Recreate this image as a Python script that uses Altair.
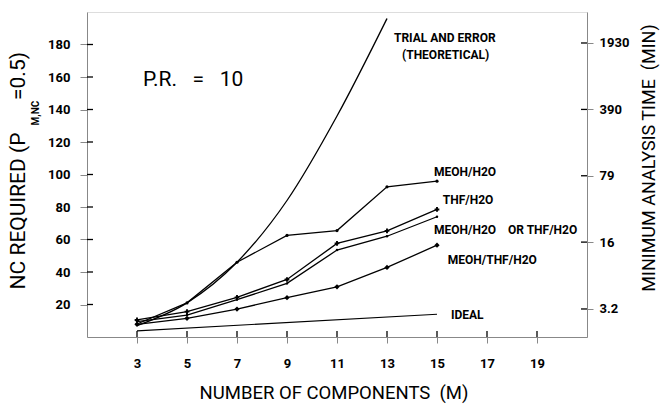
import altair as alt
import pandas as pd

# Number of components
m_vals = [3, 5, 7, 9, 11, 13, 15]

# NC required for each mobile-phase system
meoh_h2o = [8, 21, 46, 62.5, 65.5, 92.4, 95.9]
thf_h2o = [10.5, 15.6, 24.4, 35.4, 57.6, 65.3, 78.5]
meoh_or_thf = [9.5, 13.5, 23, 33, 53.5, 62, 74]
meoh_thf_h2o = [7.8, 11.5, 17.2, 24.2, 30.9, 42.8, 56.5]

# Trial and error (theoretical) curve
trial_m = [3, 5, 7, 9, 11, 13]
trial_nc = [7, 21, 46, 84, 136, 196]

# Ideal line
ideal_m = [3, 15]
ideal_nc = [3.8, 14]

# Axis ticks
x_ticks = [3, 5, 7, 9, 11, 13, 15, 17, 19]
y_ticks = [20, 40, 60, 80, 100, 120, 140, 160, 180]
time_ticks = [3.2, 16, 79, 390, 1930]

NB = "\u00a0"
# Curve labels
label_text = ["TRIAL AND ERROR", "(THEORETICAL)", "MEOH/H2O", "THF/H2O",
              "MEOH/H2O" + NB * 4 + "OR THF/H2O", "MEOH/THF/H2O", "IDEAL"]
label_m = [13.28, 13.6, 14.88, 15.23, 14.88, 15.43, 15.56]
label_nc = [184.3, 173.3, 101.4, 84.2, 65.7, 47.3, 13.5]

FONT = "Roboto"

rows = []
for name, vals in [("MEOH/H2O", meoh_h2o), ("THF/H2O", thf_h2o),
                   ("MEOH/H2O OR THF/H2O", meoh_or_thf), ("MEOH/THF/H2O", meoh_thf_h2o)]:
    for m, v in zip(m_vals, vals):
        rows.append({"series": name, "M": m, "NC": v})
df = pd.DataFrame(rows)
trial_df = pd.DataFrame({"M": trial_m, "NC": trial_nc})
ideal_df = pd.DataFrame({"M": ideal_m, "NC": ideal_nc})
labels_df = pd.DataFrame({"text": label_text, "M": label_m, "NC": label_nc})

xscale = alt.Scale(domain=[1, 21], nice=False, zero=False)
yscale = alt.Scale(domain=[0, 200], nice=False, zero=False)

X = alt.X("M:Q", scale=xscale, axis=alt.Axis(
    values=x_ticks, title=None, grid=False, tickSize=6, labelPadding=14,
    labelFontSize=13, labelFont=FONT, labelFontWeight="bold"))
Y = alt.Y("NC:Q", scale=yscale, axis=alt.Axis(
    values=y_ticks, title=None, grid=False, tickSize=7, labelPadding=10,
    labelFontSize=13, labelFont=FONT, labelFontWeight="bold"))

lines = alt.Chart(df).mark_line(color="black", strokeWidth=1.3).encode(
    x=X, y=Y, detail="series:N")

trial = alt.Chart(trial_df).mark_line(color="black", strokeWidth=1.3,
                                      interpolate="monotone").encode(x="M:Q", y="NC:Q")
ideal = alt.Chart(ideal_df).mark_line(color="black", strokeWidth=1.2).encode(x="M:Q", y="NC:Q")

dots = alt.Chart(df[df.series == "MEOH/H2O"]).mark_point(
    filled=True, color="black", size=10, opacity=1).encode(x="M:Q", y="NC:Q")
plus = alt.Chart(df[df.series == "THF/H2O"]).mark_point(
    shape="cross", filled=True, color="black", size=22, opacity=1).encode(x="M:Q", y="NC:Q")
small = alt.Chart(df[df.series == "MEOH/H2O OR THF/H2O"]).mark_point(
    filled=True, color="black", size=6, opacity=1).encode(x="M:Q", y="NC:Q")
stars = alt.Chart(df[df.series == "MEOH/THF/H2O"]).mark_point(
    shape="diamond", filled=True, color="black", size=28, opacity=1).encode(x="M:Q", y="NC:Q")

labels = alt.Chart(labels_df).mark_text(
    align="left", baseline="middle", font=FONT, fontSize=12, fontWeight="bold",
    color="black").encode(x="M:Q", y="NC:Q", text="text:N")

pr = alt.Chart(pd.DataFrame({"t": ["P.R." + NB * 3 + "=" + NB * 3 + "10"]})).mark_text(
    align="left", baseline="middle", font=FONT, fontSize=21, color="black").encode(
    x=alt.value(56), y=alt.value(68), text="t:N")

# inner halves of the crossing ticks
left_in = alt.Chart(pd.DataFrame({"NC": y_ticks})).mark_rule(
    color="black", strokeWidth=1.3).encode(y="NC:Q", x=alt.value(0), x2=alt.value(6))
bottom_in = alt.Chart(pd.DataFrame({"M": x_ticks})).mark_rule(
    color="black", strokeWidth=1.3).encode(x="M:Q", y=alt.value(319), y2=alt.value(325))

# axis titles
ytitle_a = alt.Chart(pd.DataFrame({"t": ["NC" + NB + "REQUIRED" + NB + "(P"]})).mark_text(
    angle=270, align="center", baseline="middle", font=FONT, fontSize=21, color="black").encode(
    x=alt.value(-68), y=alt.value(199), text="t:N")
ytitle_sub = alt.Chart(pd.DataFrame({"t": ["M,NC"]})).mark_text(
    angle=270, align="center", baseline="middle", font=FONT, fontSize=10, fontWeight="bold",
    color="black").encode(x=alt.value(-51), y=alt.value(101), text="t:N")
ytitle_b = alt.Chart(pd.DataFrame({"t": ["=0.5)"]})).mark_text(
    angle=270, align="center", baseline="middle", font=FONT, fontSize=21, color="black").encode(
    x=alt.value(-68), y=alt.value(64), text="t:N")
xtitle = alt.Chart(pd.DataFrame({"t": ["NUMBER OF COMPONENTS" + NB * 2 + "(M)"]})).mark_text(
    align="center", baseline="middle", font=FONT, fontSize=18.5, color="black").encode(
    x=alt.value(247), y=alt.value(381), text="t:N")
rtitle = alt.Chart(pd.DataFrame({"t": ["MINIMUM ANALYSIS TIME" + NB * 2 + "(MIN)"]})).mark_text(
    angle=270, align="center", baseline="middle", font=FONT, fontSize=18, color="black").encode(
    x=alt.value(563), y=alt.value(146), text="t:N")

main = alt.layer(lines, trial, ideal, dots, plus, small, stars, labels, pr,
                 left_in, bottom_in, ytitle_a, ytitle_sub, ytitle_b, xtitle, rtitle)

# right-hand time axis on a log scale
right = alt.Chart(pd.DataFrame({"time": time_ticks})).mark_rule(
    color="black", strokeWidth=1.3).encode(
    y=alt.Y("time:Q", scale=alt.Scale(type="log", domain=[1.63, 4069], nice=False),
            axis=alt.Axis(orient="right", values=time_ticks, title=None, grid=False,
                          tickSize=6, labelPadding=6, labelFontSize=13, labelFont=FONT,
                          labelFontWeight="bold", labelExpr="datum.value == 3.2 ? '3.2' : format(datum.value, 'd')")),
    x=alt.value(494), x2=alt.value(500))

chart = alt.layer(main, right).resolve_scale(y="independent").properties(
    width=500, height=325,
    autosize=alt.AutoSizeParams(type="none"),
    padding={"left": 87, "top": 12, "right": 77, "bottom": 70},
).configure_view(stroke="black", strokeWidth=1.5).configure_axis(
    domainColor="black", domainWidth=1.5, tickColor="black", tickWidth=1.3,
    labelColor="black").configure(background="white")

chart.save("out.html", embed_options={"renderer": "svg", "actions": False})
